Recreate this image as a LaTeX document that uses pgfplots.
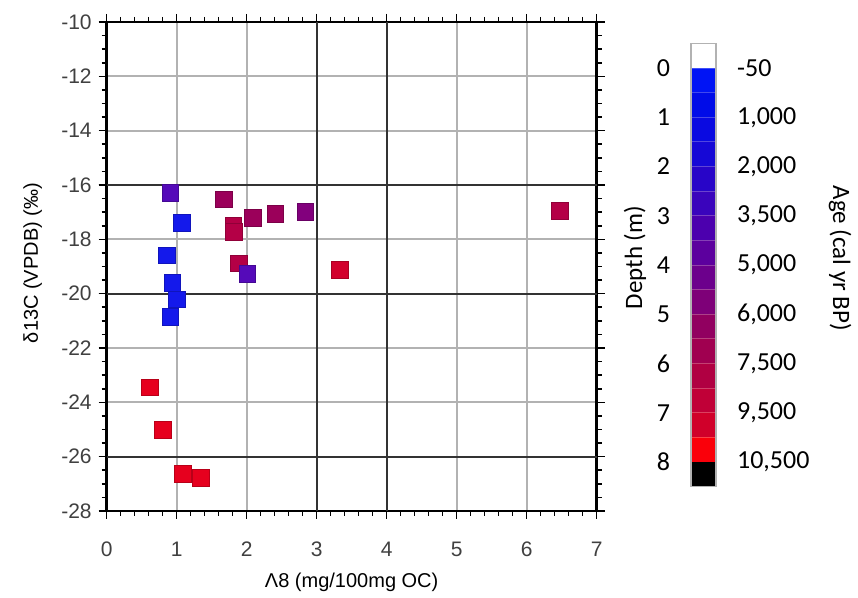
\documentclass[border=0pt]{standalone}
\usepackage{fontspec}
\setmainfont{Liberation Sans}
\newfontfamily\calfont{Carlito}
\usepackage{pgfplots}
\pgfplotsset{compat=1.18}

% point colours
\definecolor{ptA}{RGB}{20,25,235}
\definecolor{ptB}{RGB}{85,10,185}
\definecolor{ptC}{RGB}{130,0,125}
\definecolor{ptD}{RGB}{155,0,90}
\definecolor{ptE}{RGB}{180,0,70}
\definecolor{ptF}{RGB}{210,0,45}
\definecolor{ptG}{RGB}{230,0,30}
% colour bar segments (depth 0 to 8, steps of 0.5)
\definecolor{cb0}{RGB}{0,20,245}
\definecolor{cb1}{RGB}{0,12,232}
\definecolor{cb2}{RGB}{10,10,225}
\definecolor{cb3}{RGB}{22,8,214}
\definecolor{cb4}{RGB}{40,5,200}
\definecolor{cb5}{RGB}{58,4,188}
\definecolor{cb6}{RGB}{76,0,174}
\definecolor{cb7}{RGB}{92,0,158}
\definecolor{cb8}{RGB}{108,0,140}
\definecolor{cb9}{RGB}{126,0,120}
\definecolor{cb10}{RGB}{145,0,96}
\definecolor{cb11}{RGB}{160,0,80}
\definecolor{cb12}{RGB}{176,0,66}
\definecolor{cb13}{RGB}{192,0,55}
\definecolor{cb14}{RGB}{208,0,42}
\definecolor{cb15}{RGB}{250,0,10}

\begin{document}
\begin{tikzpicture}
\begin{axis}[
    at={(0,0)}, anchor=south west,
    scale only axis, width=245pt, height=244.5pt,
    xmin=0, xmax=7, ymin=-28, ymax=-10,
    xtick={0,...,7}, ytick={-28,-26,...,-10},
    minor x tick num=4, minor y tick num=3,
    tick align=outside, major tick length=4pt, minor tick length=2.5pt,
    tick style={black, line width=0.8pt},
    grid=major, major grid style={gray!60, line width=1pt},
    axis line style={black, line width=1.2pt},
    extra x ticks={3,4}, extra y ticks={-26,-20,-16},
    extra x tick labels={}, extra y tick labels={},
    extra tick style={major grid style={black!80, line width=1pt}},
    /pgf/number format/assume math mode=true,
    tick label style={font=\fontsize{10.5}{12}\selectfont, text=black!75},
    xticklabel style={yshift=-8pt},
    xlabel={Λ8 (mg/100mg OC)}, ylabel={δ13C (VPDB) (‰)},
    label style={font=\fontsize{10}{12}\selectfont, text=black!60},
    every axis x label/.style={at={(axis description cs:0.5,-0.145)}, anchor=center},
    every axis y label/.style={at={(axis description cs:-0.151,0.507)}, rotate=90, anchor=center},
]
\addplot[scatter, only marks, scatter src=explicit symbolic, mark=square*, mark size=4.2pt,
    scatter/classes={
        a={mark=square*, fill=ptA, draw=ptA!80!black},
        b={mark=square*, fill=ptB, draw=ptB!80!black},
        c={mark=square*, fill=ptC, draw=ptC!80!black},
        d={mark=square*, fill=ptD, draw=ptD!80!black},
        e={mark=square*, fill=ptE, draw=ptE!80!black},
        f={mark=square*, fill=ptF, draw=ptF!80!black},
        g={mark=square*, fill=ptG, draw=ptG!80!black}}]
    table[meta=c] {
x y c
0.91 -16.29 b
1.08 -17.40 a
0.86 -18.59 a
0.94 -19.60 a
1.00 -20.21 a
0.91 -20.85 a
1.67 -16.53 d
1.81 -17.52 e
1.82 -17.73 e
2.09 -17.20 d
2.41 -17.05 d
2.84 -16.99 c
1.89 -18.89 e
2.01 -19.28 b
3.33 -19.14 f
6.48 -16.96 e
0.62 -23.45 g
0.80 -25.02 g
1.09 -26.64 g
1.35 -26.78 g
};
\end{axis}

% colour bar, depth labels on the left
\begin{axis}[
    at={(292.2pt,12.2pt)}, anchor=south west,
    scale only axis, width=12.5pt, height=221.6pt,
    xmin=0, xmax=1, ymin=-0.5, ymax=8.5, y dir=reverse,
    xtick=\empty, ytick={0,...,8},
    major tick length=0pt,
    axis on top,
    axis line style={gray!60, line width=0.8pt},
    /pgf/number format/assume math mode=true,
    yticklabel style={font=\calfont\fontsize{13}{15}\selectfont, xshift=-7pt},
    ylabel={Depth (m)},
    every axis y label/.style={at={(axis description cs:-2.24,0.517)}, rotate=90, anchor=center,
        font=\calfont\fontsize{12.5}{15}\selectfont},
]
\addplot[fill=white, draw=none] coordinates {(0,-0.5) (1,-0.5) (1,0) (0,0)};
\addplot[fill=cb0, draw=cb0!75!white, line width=0.4pt] coordinates {(0,0) (1,0) (1,0.5) (0,0.5) (0,0)};
\addplot[fill=cb1, draw=cb1!75!white, line width=0.4pt] coordinates {(0,0.5) (1,0.5) (1,1) (0,1) (0,0.5)};
\addplot[fill=cb2, draw=cb2!75!white, line width=0.4pt] coordinates {(0,1) (1,1) (1,1.5) (0,1.5) (0,1)};
\addplot[fill=cb3, draw=cb3!75!white, line width=0.4pt] coordinates {(0,1.5) (1,1.5) (1,2) (0,2) (0,1.5)};
\addplot[fill=cb4, draw=cb4!75!white, line width=0.4pt] coordinates {(0,2) (1,2) (1,2.5) (0,2.5) (0,2)};
\addplot[fill=cb5, draw=cb5!75!white, line width=0.4pt] coordinates {(0,2.5) (1,2.5) (1,3) (0,3) (0,2.5)};
\addplot[fill=cb6, draw=cb6!75!white, line width=0.4pt] coordinates {(0,3) (1,3) (1,3.5) (0,3.5) (0,3)};
\addplot[fill=cb7, draw=cb7!75!white, line width=0.4pt] coordinates {(0,3.5) (1,3.5) (1,4) (0,4) (0,3.5)};
\addplot[fill=cb8, draw=cb8!75!white, line width=0.4pt] coordinates {(0,4) (1,4) (1,4.5) (0,4.5) (0,4)};
\addplot[fill=cb9, draw=cb9!75!white, line width=0.4pt] coordinates {(0,4.5) (1,4.5) (1,5) (0,5) (0,4.5)};
\addplot[fill=cb10, draw=cb10!75!white, line width=0.4pt] coordinates {(0,5) (1,5) (1,5.5) (0,5.5) (0,5)};
\addplot[fill=cb11, draw=cb11!75!white, line width=0.4pt] coordinates {(0,5.5) (1,5.5) (1,6) (0,6) (0,5.5)};
\addplot[fill=cb12, draw=cb12!75!white, line width=0.4pt] coordinates {(0,6) (1,6) (1,6.5) (0,6.5) (0,6)};
\addplot[fill=cb13, draw=cb13!75!white, line width=0.4pt] coordinates {(0,6.5) (1,6.5) (1,7) (0,7) (0,6.5)};
\addplot[fill=cb14, draw=cb14!75!white, line width=0.4pt] coordinates {(0,7) (1,7) (1,7.5) (0,7.5) (0,7)};
\addplot[fill=cb15, draw=cb15!75!white, line width=0.4pt] coordinates {(0,7.5) (1,7.5) (1,8) (0,8) (0,7.5)};
\addplot[fill=black, draw=none] coordinates {(0,8) (1,8) (1,8.5) (0,8.5)};
\end{axis}

% age labels on the right of the colour bar
\begin{axis}[
    at={(292.2pt,12.2pt)}, anchor=south west,
    scale only axis, width=12.5pt, height=221.6pt,
    xmin=0, xmax=1, ymin=-0.5, ymax=8.5, y dir=reverse,
    xtick=\empty, ytick={0,...,8},
    yticklabels={-50,{1,000},{2,000},{3,500},{5,000},{6,000},{7,500},{9,500},{10,500}},
    yticklabel pos=right,
    major tick length=0pt,
    axis line style={draw=none},
    yticklabel style={font=\calfont\fontsize{13}{15}\selectfont, xshift=7pt},
    ylabel={Age (cal yr BP)},
    every axis y label/.style={at={(axis description cs:5.96,0.515)}, rotate=-90, anchor=center,
        font=\calfont\fontsize{12.5}{15}\selectfont},
]
\end{axis}

\path (-53.35pt,-42.5pt) rectangle (375.65pt,255.5pt);
\end{tikzpicture}
\end{document}
